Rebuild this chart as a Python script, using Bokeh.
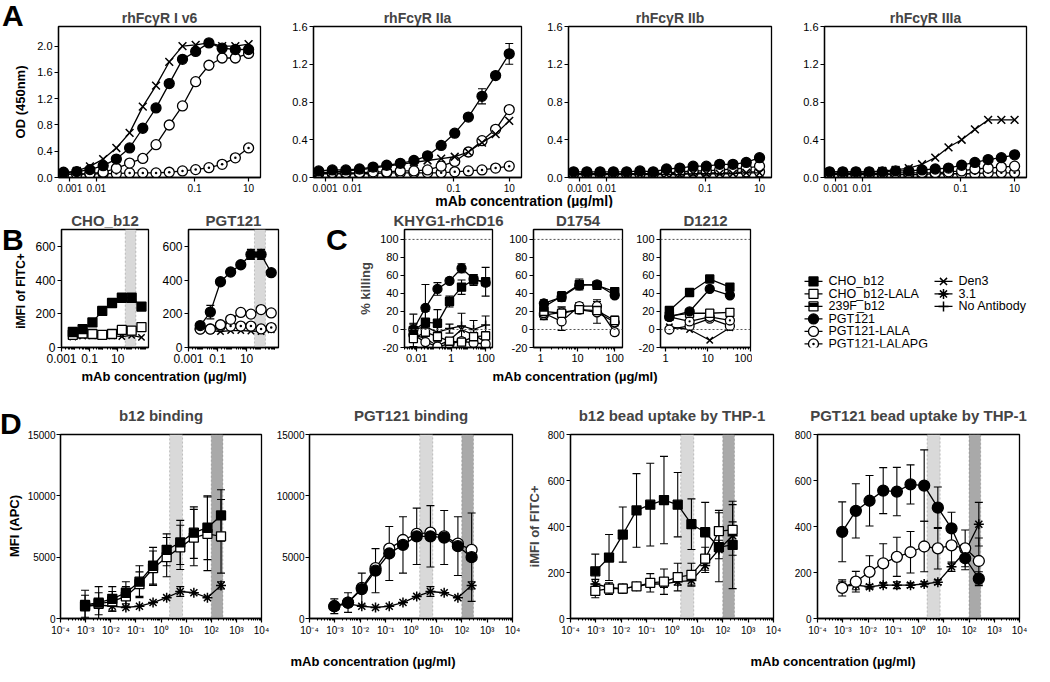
import math
from bokeh.plotting import figure
from bokeh.models import (Range1d, FixedTicker, Whisker, TeeHead, BoxAnnotation, Span,
                          ColumnDataSource, Div, NumeralTickFormatter)
from bokeh.layouts import row, column
from bokeh.embed import file_html
from bokeh.resources import INLINE
from bokeh.core.properties import value

FONT = "Liberation Sans"
CSS_FONT = "font-family:'Liberation Sans',Arial,sans-serif;font-weight:bold;color:black;"

# ============================ DATA ============================
# ---- Panel A : ELISA binding (OD 450nm), 3-fold dilutions from 10 ug/ml
conc_A = [0.0000021, 0.0000063, 0.0000188, 0.0000565, 0.000169, 0.000508, 0.00152,
          0.00457, 0.0137, 0.0412, 0.123, 0.370, 1.11, 3.33, 10.0]
A_titles = ["rhFcγR I v6", "rhFcγR IIa", "rhFcγR IIb", "rhFcγR IIIa"]
A_xtick_pos = [3.5e-6, 3.2e-5, 0.112, 10]
A_xtick_labels = ["0.001", "0.01", "0.1", "10"]

A1_den3 = [0.06, 0.10, 0.17, 0.28, 0.45, 0.68, 1.08, 1.40, 1.76, 2.00, 2.02, 2.05, 2.00, 2.00, 2.03]
A1_pgt = [0.08, 0.09, 0.12, 0.18, 0.28, 0.45, 0.75, 1.06, 1.43, 1.80, 1.92, 2.05, 1.97, 1.95, 1.95]
A1_lala = [0.05, 0.05, 0.06, 0.08, 0.14, 0.22, 0.29, 0.50, 0.80, 1.09, 1.46, 1.71, 1.82, 1.82, 1.89]
A1_lalapg = [0.05, 0.05, 0.05, 0.06, 0.06, 0.07, 0.07, 0.07, 0.08, 0.10, 0.12, 0.15, 0.20, 0.30, 0.45]

A2_den3 = [0.05, 0.06, 0.07, 0.08, 0.10, 0.12, 0.14, 0.16, 0.18, 0.20, 0.22, 0.27, 0.37, 0.46, 0.60]
A2_pgt = [0.07, 0.08, 0.08, 0.09, 0.11, 0.13, 0.15, 0.18, 0.23, 0.34, 0.47, 0.64, 0.86, 1.08, 1.31]
A2_pgt_err = [0, 0, 0, 0, 0, 0, 0, 0, 0, 0, 0, 0, 0.08, 0, 0.11]
A2_lala = [0.05, 0.05, 0.05, 0.05, 0.06, 0.06, 0.07, 0.07, 0.08, 0.12, 0.17, 0.27, 0.39, 0.51, 0.72]
A2_lalapg = [0.04, 0.04, 0.04, 0.04, 0.04, 0.05, 0.05, 0.05, 0.05, 0.05, 0.06, 0.07, 0.08, 0.10, 0.12]

A3_den3 = [0.03, 0.03, 0.03, 0.03, 0.03, 0.03, 0.03, 0.03, 0.03, 0.04, 0.04, 0.04, 0.04, 0.05, 0.05]
A3_pgt = [0.06, 0.06, 0.06, 0.06, 0.06, 0.07, 0.06, 0.09, 0.10, 0.12, 0.12, 0.14, 0.14, 0.16, 0.21]
A3_lala = [0.04, 0.04, 0.04, 0.04, 0.04, 0.04, 0.04, 0.05, 0.06, 0.07, 0.07, 0.08, 0.09, 0.10, 0.12]
A3_lalapg = [0.04, 0.04, 0.04, 0.04, 0.04, 0.04, 0.04, 0.04, 0.04, 0.05, 0.05, 0.05, 0.05, 0.06, 0.06]

A4_den3 = [0.06, 0.06, 0.06, 0.06, 0.07, 0.08, 0.10, 0.14, 0.21, 0.32, 0.40, 0.51, 0.61, 0.61, 0.61]
A4_pgt = [0.06, 0.06, 0.06, 0.06, 0.06, 0.07, 0.07, 0.08, 0.09, 0.10, 0.13, 0.16, 0.19, 0.21, 0.24]
A4_lala = [0.04, 0.04, 0.04, 0.04, 0.04, 0.05, 0.05, 0.05, 0.05, 0.06, 0.07, 0.09, 0.10, 0.11, 0.12]
A4_lalapg = [0.03, 0.03, 0.03, 0.03, 0.03, 0.03, 0.03, 0.03, 0.04, 0.04, 0.04, 0.04, 0.05, 0.05, 0.05]

# ---- Panel B : bead uptake (iMFI of FITC+), 5-fold dilutions
conc_B = [0.0064, 0.032, 0.16, 0.8, 4, 20, 100, 500]
B_titles = ["CHO_b12", "PGT121"]
B_band = [35, 200]
B1_cho = [92, 109, 149, 217, 264, 295, 295, 243]
B1_cho_err = [0, 0, 0, 0, 0, 0, 25, 0]
B1_lala = [75, 83, 80, 75, 80, 104, 100, 121]
B1_den3 = [62, 68, 70, 66, 70, 65, 72, 60]
B2_pgt = [130, 210, 390, 448, 491, 552, 552, 444]
B2_pgt_err = [0, 40, 0, 0, 0, 30, 30, 0]
B2_lala = [109, 109, 135, 167, 208, 198, 225, 205]
B2_lalapg = [110, 110, 127, 127, 127, 127, 110, 118]
B2_den3 = [105, 100, 95, 100, 100, 98, 95, 105]

# ---- Panel C : ADCC (% killing)
C_titles = ["KHYG1-rhCD16", "D1754", "D1212"]
conc_C1 = [0.0064, 0.032, 0.16, 0.8, 4, 20, 100]
C1_cho = [-1, 8, 7, 31, 47, 55, 53]
C1_cho_err = [18, 12, 15, 6, 8, 6, 16]
C1_pgt = [0, 24, 45, 54, 68, 56, 52]
C1_pgt_err = [6, 26, 7, 3, 5, 5, 0]
C1_lala = [-10, -3, -8, -13, -14, -8, -7]
C1_pgtlala = [-6, -14, -19, -16, -13, -15, -16]
C1_den3 = [-6, -10, -18, -12, 0, -6, -14]
C1_noab = [0, 3, -3, 1, 4, 0, 5]
C1_noab_err = [7, 5, 10, 5, 14, 10, 10]

conc_C2 = [1.23, 3.7, 11.1, 33.3, 100]
C2_cho = [25, 37, 50, 49, 42]
C2_cho_err = [5, 5, 6, 3, 4]
C2_pgt = [29, 36, 49, 50, 38]
C2_pgt_err = [4, 5, 4, 3, 3]
C2_lala = [20, 18, 22, 21, 10]
C2_lala_err = [6, 7, 4, 4, 5]
C2_pgtlala = [18, 9, 26, 26, -3]
C2_pgtlala_err = [5, 10, 4, 7, 3]
C2_lalapg = [16, 19, 22, 19, 8]
C2_lalapg_err = [5, 6, 3, 12, 4]

conc_C3 = [1.23, 3.7, 11.1, 33.3]
C3_cho = [21, 41, 56, 47]
C3_pgt = [14, 20, 45, 38]
C3_lala = [15, 18, 18, 19]
C3_pgtlala = [0, 4, 12, 4]
C3_lalapg = [14, 9, 14, 10]
C3_den3 = [3, 0, -12, 2]

# ---- Panel D : binding and bead uptake, ~3.5-fold dilutions
conc_D = [0.00095, 0.0033, 0.0115, 0.04, 0.139, 0.483, 1.68, 5.83, 20.3, 70.5, 245]
D_titles = ["b12 binding", "PGT121 binding", "b12 bead uptake by THP-1", "PGT121 bead uptake by THP-1"]
D_band_light = [2.2, 7.2]
D_band_dark = [100, 290]
D_xtick_pos = [1e-4, 1e-3, 1e-2, 1e-1, 1, 10, 100, 1000, 10000]
D_xtick_labels = ["10⁻⁴", "10⁻³", "10⁻²", "10⁻¹", "10⁰", "10¹", "10²", "10³", "10⁴"]

D1_cho = [1100, 1300, 1600, 2100, 3000, 4300, 5600, 6200, 7000, 7400, 8400]
D1_cho_err = [1200, 1300, 1000, 900, 1300, 1500, 1300, 1800, 2100, 2600, 2100]
D1_lala = [1000, 1200, 1400, 1800, 2800, 4100, 5000, 5800, 6600, 6900, 6700]
D1_lala_err = [900, 900, 800, 800, 1000, 1400, 1600, 1800, 2300, 3000, 3000]
D1_31 = [1000, 1100, 1000, 900, 1000, 1300, 1700, 2200, 2100, 1700, 2700]
D1_31_err = [0, 0, 0, 0, 0, 0, 0, 400, 0, 0, 300]

D2_pgt = [1000, 1300, 2400, 3900, 5300, 6000, 6700, 6700, 6600, 5900, 5000]
D2_pgt_err = [600, 800, 1300, 1800, 2200, 2300, 2300, 2500, 2200, 2400, 3600]
D2_lala = [1000, 1300, 2500, 4100, 5700, 6400, 6900, 7000, 6700, 6100, 5600]
D2_31 = [1000, 1200, 1000, 900, 1000, 1300, 1800, 2200, 2100, 1700, 2700]
D2_31_err = [0, 0, 0, 0, 0, 0, 0, 400, 0, 0, 300]

D3_cho = [205, 265, 365, 470, 495, 515, 495, 410, 375, 310, 320]
D3_cho_err = [75, 100, 120, 160, 180, 190, 140, 110, 130, 150, 190]
D3_lala = [120, 130, 130, 140, 155, 160, 180, 190, 260, 380, 385]
D3_lala_err = [30, 25, 20, 15, 40, 55, 60, 50, 50, 90, 110]
D3_31 = [150, 135, 130, 140, 150, 150, 160, 165, 230, 300, 360]
D3_31_err = [20, 10, 10, 10, 10, 15, 15, 20, 30, 40, 60]

D4_pgt = [377, 468, 512, 556, 552, 583, 578, 482, 392, 262, 173]
D4_pgt_err = [130, 118, 110, 100, 105, 85, 155, 90, 70, 50, 30]
D4_lala = [133, 160, 203, 240, 268, 288, 313, 305, 318, 305, 250]
D4_lala_err = [35, 45, 70, 85, 85, 90, 110, 90, 80, 80, 100]
D4_31 = [140, 145, 138, 145, 145, 145, 150, 158, 225, 290, 410]
D4_31_err = [20, 20, 10, 10, 15, 10, 10, 10, 20, 30, 95]

# ---- legend
legend_col1 = ["CHO_b12", "CHO_b12-LALA", "239F_b12", "PGT121", "PGT121-LALA", "PGT121-LALAPG"]
legend_col2 = ["Den3", "3.1", "No Antibody"]

# ============================ STYLE ============================
MARK = {
    "CHO_b12": ("square", "black"),
    "CHO_b12-LALA": ("square", "white"),
    "239F_b12": ("square", "white"),
    "PGT121": ("circle", "black"),
    "PGT121-LALA": ("circle", "white"),
    "PGT121-LALAPG": ("circle_dot", "white"),
    "Den3": ("x", None),
    "3.1": ("asterisk", None),
    "No Antibody": ("cross", None),
}

# vertical layout (page pixels)
ROW_A = dict(top=8, bt=26, fh=151, bb=18)      # frame 34-185
ROW_BC = dict(top=215, bt=22, fh=118, bb=26)   # frame 237-355
ROW_D = dict(top=391, bt=51, fh=184, bb=22)    # frame 442-626


def rh(rowg):
    return rowg["bt"] + rowg["fh"] + rowg["bb"]


def minor_log(lo, hi):
    return [m * 10.0 ** e for e in range(lo, hi) for m in range(2, 10)]


def series(p, x, y, name, size, err=None):
    if err is not None:
        xs, lo, hi = [], [], []
        for a, b, e in zip(x, y, err):
            if e > 0:
                xs.append(a); lo.append(b - e); hi.append(b + e)
        if xs:
            src = ColumnDataSource(dict(x=xs, lo=lo, hi=hi))
            p.add_layout(Whisker(source=src, base="x", lower="lo", upper="hi", dimension="height",
                                 line_color="black", line_width=1.1,
                                 upper_head=TeeHead(size=8, line_color="black", line_width=1.1),
                                 lower_head=TeeHead(size=8, line_color="black", line_width=1.1)))
    p.line(x, y, line_color="black", line_width=1.3)
    m, f = MARK[name]
    sz = size * 0.9 if m == "square" else size
    p.scatter(x, y, marker=m, size=sz, fill_color=f, line_color="black",
              line_width=1.3 if f else 1.5)


def panel(bl, fw, br, rowg, xr, yr, title, tsize, tstand=2):
    p = figure(width=bl + fw + br, height=rh(rowg), x_axis_type="log",
               x_range=Range1d(*xr), y_range=Range1d(*yr), title=title,
               toolbar_location=None, output_backend="svg",
               min_border_left=bl, min_border_right=br, min_border_top=rowg["bt"],
               min_border_bottom=rowg["bb"])
    p.title.text_font = FONT
    p.title.text_font_style = "bold"
    p.title.text_font_size = f"{tsize}px"
    p.title.align = "center"
    p.title.standoff = tstand
    p.grid.visible = False
    p.outline_line_color = "black"
    p.outline_line_width = 1.3
    p.outline_line_alpha = 1
    for ax in (p.xaxis[0], p.yaxis[0]):
        ax.axis_line_width = 1.3
        ax.major_tick_line_width = 1.2
        ax.major_tick_out = 4
        ax.major_tick_in = 0
        ax.minor_tick_out = 2
        ax.minor_tick_in = 0
        ax.minor_tick_line_width = 1
        ax.major_label_text_font = FONT
        ax.major_label_text_color = "black"
        ax.major_label_standoff = 2
        ax.axis_label_text_font = FONT
        ax.axis_label_text_font_style = "bold"
        ax.axis_label_text_font_size = "13px"
    return p


def set_x(p, ticks, labels, minor, size):
    ax = p.xaxis[0]
    ax.ticker = FixedTicker(ticks=ticks, minor_ticks=minor)
    ax.major_label_overrides = {t: l for t, l in zip(ticks, labels)}
    ax.major_label_text_font_size = f"{size}px"


def set_y(p, ticks, fmt, size):
    ax = p.yaxis[0]
    ax.ticker = FixedTicker(ticks=ticks, minor_ticks=[])
    ax.formatter = NumeralTickFormatter(format=fmt)
    ax.major_label_text_font_size = f"{size}px"


def band(p, lr, color):
    p.add_layout(BoxAnnotation(left=lr[0], right=lr[1], fill_color=color, fill_alpha=1,
                               line_color="#555555", line_dash="2 2", line_width=1,
                               level="underlay"))


def blank_fig(x0, x1, y0, y1):
    f = figure(width=x1 - x0, height=y1 - y0, x_range=Range1d(x0, x1), y_range=Range1d(y1, y0),
               title=None, toolbar_location=None, output_backend="svg", x_axis_location=None,
               y_axis_location=None, min_border=0, min_border_left=0, min_border_right=0,
               min_border_top=0, min_border_bottom=0)
    f.grid.visible = False
    f.outline_line_color = None
    return f


def strip_div(width, height, letter, lleft, ltop, ylabel=None, ycx=None, ycy=None, ysize=13):
    """HTML strip holding a panel letter (and a rotated y-axis title)."""
    html = (f'<div style="position:relative;width:{width}px;height:{height}px;">'
            f'<span style="position:absolute;left:{lleft}px;top:{ltop}px;{CSS_FONT}'
            f'font-size:30px;line-height:30px;">{letter}</span>')
    if ylabel:
        html += (f'<span style="position:absolute;left:{ycx}px;top:{ycy}px;'
                 f'transform:translate(-50%,-50%) rotate(-90deg);white-space:nowrap;{CSS_FONT}'
                 f'font-size:{ysize}px;line-height:14px;">{ylabel}</span>')
    html += '</div>'
    return Div(text=html, width=width, height=height, margin=(0, 0, 0, 0))


def xlabel_div(height, items, size, top):
    spans = "".join(
        f'<span style="position:absolute;left:{cx}px;top:{top}px;transform:translateX(-50%);'
        f'white-space:nowrap;{CSS_FONT}font-size:{size}px;line-height:16px;">{t}</span>'
        for cx, t in items)
    html = f'<div style="position:relative;width:1034px;height:{height}px;">{spans}</div>'
    return Div(text=html, width=1034, height=height, margin=(0, 0, 0, 0))


XLAB = "mAb concentration (µg/ml)"

# ============================ ROW A ============================
A_geom = [(28, 202, 10), (43, 208, 10), (37, 203, 10), (43, 202, 5)]
A_yr = [(0, 2.3), (0, 1.6), (0, 1.6), (0, 1.6)]
A_yt = [[0, 0.4, 0.8, 1.2, 1.6, 2.0], [0, 0.4, 0.8, 1.2, 1.6], [0, 0.4, 0.8, 1.2, 1.6], [0, 0.4, 0.8, 1.2, 1.6]]
A_data = [
    (A1_lalapg, A1_lala, A1_pgt, None, A1_den3),
    (A2_lalapg, A2_lala, A2_pgt, A2_pgt_err, A2_den3),
    (A3_lalapg, A3_lala, A3_pgt, None, A3_den3),
    (A4_lalapg, A4_lala, A4_pgt, None, A4_den3),
]
rowA = [strip_div(30, rh(ROW_A), "A", 2, 1, "OD (450nm)", 21,
                  ROW_A["bt"] + ROW_A["fh"] / 2)]
for i in range(4):
    bl, fw, br = A_geom[i]
    p = panel(bl, fw, br, ROW_A, (10 ** -5.86, 10 ** 1.43), A_yr[i], A_titles[i], 14)
    set_x(p, A_xtick_pos, A_xtick_labels, [], 10)
    set_y(p, A_yt[i], "0.0", 11)
    lpg, la, pg, pg_err, dn = A_data[i]
    series(p, conc_A, lpg, "PGT121-LALAPG", 10)
    series(p, conc_A, la, "PGT121-LALA", 10)
    series(p, conc_A, dn, "Den3", 11)
    series(p, conc_A, pg, "PGT121", 10, pg_err)
    rowA.append(p)

divA = xlabel_div(12, [(524, XLAB)], 14, -2)

# ============================ ROW B / C ============================
B_minor = minor_log(-3, 4)
lb = strip_div(32, rh(ROW_BC), "B", 2, 18, "iMFI of FITC+", 21,
               ROW_BC["bt"] + ROW_BC["fh"] / 2 + 3, ysize=12)
b1 = panel(26, 90, 10, ROW_BC, (10 ** -3, 10 ** 3.2), (0, 700), B_titles[0], 15)
b2 = panel(30, 90, 40, ROW_BC, (10 ** -3, 10 ** 3.2), (0, 700), B_titles[1], 15)
for p in (b1, b2):
    set_x(p, [0.001, 0.1, 10], ["0.001", "0.1", "10"], B_minor, 12)
    set_y(p, [0, 200, 400, 600], "0", 12)
    band(p, B_band, "#d9d9d9")
series(b1, conc_B, B1_den3, "Den3", 9)
series(b1, conc_B, B1_lala, "CHO_b12-LALA", 10)
series(b1, conc_B, B1_cho, "CHO_b12", 10, B1_cho_err)
series(b2, conc_B, B2_den3, "Den3", 9)
series(b2, conc_B, B2_lalapg, "PGT121-LALAPG", 10)
series(b2, conc_B, B2_lala, "PGT121-LALA", 10)
series(b2, conc_B, B2_pgt, "PGT121", 10, B2_pgt_err)

lc = strip_div(37, rh(ROW_BC), "C", 8, 18)
C_yt = [-20, 0, 20, 40, 60, 80, 100]
c1 = panel(47, 90, 14, ROW_BC, (10 ** -2.71, 10 ** 2.4), (-20, 111), C_titles[0], 15)
c2 = panel(26, 90, 10, ROW_BC, (10 ** -0.19, 10 ** 2.21), (-20, 111), C_titles[1], 15)
c3 = panel(28, 90, 2, ROW_BC, (10 ** -0.12, 10 ** 2.01), (-20, 111), C_titles[2], 15)
set_x(c1, [0.01, 1, 100], ["0.01", "1", "100"], minor_log(-3, 3), 11)
for p in (c2, c3):
    set_x(p, [1, 10, 100], ["1", "10", "100"], minor_log(0, 3), 11)
for p in (c1, c2, c3):
    set_y(p, C_yt, "0", 11)
    for loc in (0, 100):
        p.add_layout(Span(location=loc, dimension="width", line_color="#555555",
                          line_dash="2 2", line_width=1))
c1.yaxis[0].axis_label = "% killing"
c1.yaxis[0].axis_label_standoff = 4

series(c1, conc_C1, C1_noab, "No Antibody", 9, C1_noab_err)
series(c1, conc_C1, C1_den3, "Den3", 9)
series(c1, conc_C1, C1_pgtlala, "PGT121-LALA", 9)
series(c1, conc_C1, C1_lala, "CHO_b12-LALA", 9)
series(c1, conc_C1, C1_cho, "CHO_b12", 9, C1_cho_err)
series(c1, conc_C1, C1_pgt, "PGT121", 9, C1_pgt_err)

series(c2, conc_C2, C2_lalapg, "PGT121-LALAPG", 9, C2_lalapg_err)
series(c2, conc_C2, C2_pgtlala, "PGT121-LALA", 9, C2_pgtlala_err)
series(c2, conc_C2, C2_lala, "CHO_b12-LALA", 9, C2_lala_err)
series(c2, conc_C2, C2_pgt, "PGT121", 9, C2_pgt_err)
series(c2, conc_C2, C2_cho, "CHO_b12", 9, C2_cho_err)

series(c3, conc_C3, C3_den3, "Den3", 9)
series(c3, conc_C3, C3_pgtlala, "PGT121-LALA", 9)
series(c3, conc_C3, C3_lalapg, "PGT121-LALAPG", 9)
series(c3, conc_C3, C3_lala, "CHO_b12-LALA", 9)
series(c3, conc_C3, C3_pgt, "PGT121", 9)
series(c3, conc_C3, C3_cho, "CHO_b12", 9)

# legend figure (page-pixel coordinates)
leg = blank_fig(760, 1038, ROW_BC["top"], ROW_BC["top"] + rh(ROW_BC))
leg_marker_x = [821, 951]
leg_top, leg_step = 288, 17.6
for mx, names in zip(leg_marker_x, [legend_col1, legend_col2]):
    n = len(names)
    ys = [leg_top + k * leg_step for k in range(n)]
    leg.segment(x0=[mx - 9] * n, y0=ys, x1=[mx + 9] * n, y1=ys, line_color="black", line_width=1.3)
    for name, yy in zip(names, ys):
        m, f = MARK[name]
        sz = 9 if m == "square" else 10
        leg.scatter([mx], [yy], marker=m, size=sz, fill_color=f, line_color="black",
                    line_width=1.3 if f else 1.5)
        if name == "239F_b12":
            leg.scatter([mx], [yy - 2], marker="dash", size=9, line_color="black", line_width=4)
    leg.text(x=[mx + 15] * n, y=ys, text=names, text_font=value(FONT),
             text_font_size=value("12.5px"), text_baseline="middle", text_align="left",
             text_color="black")

divBC = xlabel_div(10, [(164, XLAB), (575, XLAB)], 13, -6)

# ============================ ROW D ============================
D_geom = [(34, 203, 10), (38, 203, 10), (48, 203, 10), (34, 202, 12)]
D_minor = minor_log(-4, 4)
rowD = [strip_div(24, rh(ROW_D), "D", 0, 26, "MFI (APC)", 15, ROW_D["bt"] + ROW_D["fh"] / 2)]
for i in range(4):
    bl, fw, br = D_geom[i]
    yr = (0, 15000) if i < 2 else (0, 800)
    p = panel(bl, fw, br, ROW_D, (1e-4, 1e4), yr, D_titles[i], 15, tstand=22)
    set_x(p, D_xtick_pos, D_xtick_labels, D_minor, 10)
    if i < 2:
        set_y(p, [0, 5000, 10000, 15000], "0", 10)
        p.yaxis[0].major_label_standoff = 1
    else:
        set_y(p, [0, 200, 400, 600, 800], "0", 10)
    band(p, D_band_light, "#d9d9d9")
    band(p, D_band_dark, "#a9a9a9")
    rowD.append(p)

_, d1, d2, d3, d4 = rowD
d3.yaxis[0].axis_label = "iMFI of FITC+"
d3.yaxis[0].axis_label_standoff = 3

series(d1, conc_D, D1_31, "3.1", 10, D1_31_err)
series(d1, conc_D, D1_lala, "CHO_b12-LALA", 10, D1_lala_err)
series(d1, conc_D, D1_cho, "CHO_b12", 10, D1_cho_err)

series(d2, conc_D, D2_31, "3.1", 10, D2_31_err)
series(d2, conc_D, D2_lala, "PGT121-LALA", 11)
series(d2, conc_D, D2_pgt, "PGT121", 11, D2_pgt_err)

series(d3, conc_D, D3_31, "3.1", 10, D3_31_err)
series(d3, conc_D, D3_lala, "CHO_b12-LALA", 10, D3_lala_err)
series(d3, conc_D, D3_cho, "CHO_b12", 10, D3_cho_err)

series(d4, conc_D, D4_31, "3.1", 10, D4_31_err)
series(d4, conc_D, D4_lala, "PGT121-LALA", 11, D4_lala_err)
series(d4, conc_D, D4_pgt, "PGT121", 11, D4_pgt_err)

divD = xlabel_div(26, [(373, XLAB), (833, XLAB)], 13, 14)

layout = column(row(*rowA), divA,
                row(lb, b1, b2, lc, c1, c2, c3, leg), divBC,
                row(*rowD), divD)

open("out.html", "w").write(file_html(layout, INLINE, "Figure"))
